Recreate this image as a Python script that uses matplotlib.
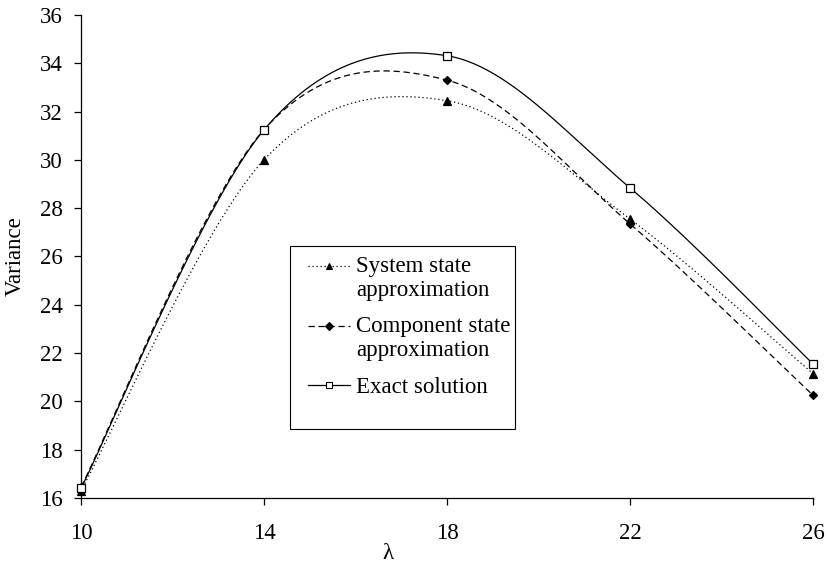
import numpy as np
import matplotlib.pyplot as plt
from matplotlib.lines import Line2D
from matplotlib.patches import Rectangle
from matplotlib.legend_handler import HandlerLine2D

plt.rcParams['font.family'] = ['Liberation Serif', 'DejaVu Serif']

lam = [10, 14, 18, 22, 26]
system_state = [16.3, 30.0, 32.45, 27.55, 21.15]
component_state = [16.45, 31.25, 33.3, 27.35, 20.25]
exact = [16.4, 31.24, 34.31, 28.84, 21.55]

labels = ["System state\napproximation", "Component state\napproximation", "Exact solution"]
x_ticks = [10, 14, 18, 22, 26]
y_ticks = list(range(16, 37, 2))


def smooth(x, y, n=80):
    # excel style smoothed line: cubic bezier with catmull-rom control points
    pts = np.column_stack([x, y]).astype(float)
    P = np.vstack([pts[0], pts, pts[-1]])
    t = np.linspace(0, 1, n)[:, None]
    out = []
    for i in range(len(pts) - 1):
        p0, p1, p2, p3 = P[i], P[i + 1], P[i + 2], P[i + 3]
        c1 = p1 + (p2 - p0) / 6
        c2 = p2 - (p3 - p1) / 6
        b = (1 - t) ** 3 * p1 + 3 * (1 - t) ** 2 * t * c1 + 3 * (1 - t) * t ** 2 * c2 + t ** 3 * p2
        out.append(b if i == 0 else b[1:])
    out = np.vstack(out)
    return out[:, 0], out[:, 1]


class FirstLineHandler(HandlerLine2D):
    """put the legend handle next to the first line of a two-line label"""
    def __init__(self, shift=0.0, **kw):
        super().__init__(**kw)
        self.shift = shift

    def create_artists(self, legend, orig_handle, xdescent, ydescent,
                       width, height, fontsize, trans):
        arts = super().create_artists(legend, orig_handle, xdescent, ydescent,
                                      width, height, fontsize, trans)
        for a in arts:
            a.set_ydata(np.asarray(a.get_ydata(), float) + self.shift)
        return arts


fig = plt.figure(figsize=(8.29, 5.63), dpi=100)
ax = fig.add_axes([0.0977, 0.1155, 0.883, 0.858])

styles = [
    dict(ls=(0, (1, 2.2)), marker='^', ms=6, mfc='black'),
    dict(ls=(0, (5, 3)), marker='D', ms=4.5, mfc='black'),
    dict(ls='-', marker='s', ms=6, mfc='white'),
]
handles = []
for ys, st, lab in zip([system_state, component_state, exact], styles, labels):
    sx, sy = smooth(lam, ys)
    ax.plot(sx, sy, color='black', lw=0.9, linestyle=st['ls'], zorder=2)
    ax.plot(lam, ys, linestyle='none', marker=st['marker'], ms=st['ms'],
            mfc=st['mfc'], mec='black', mew=0.9, zorder=3, clip_on=False)
    handles.append(Line2D([], [], color='black', lw=0.9, linestyle=st['ls'],
                          marker=st['marker'], ms=st['ms'] * 0.8, mfc=st['mfc'],
                          mec='black', mew=0.8))

ax.set_xlim(10, 26)
ax.set_ylim(16, 36)
ax.set_xticks(x_ticks)
ax.set_yticks(y_ticks)
for s in ['top', 'right']:
    ax.spines[s].set_visible(False)
for s in ['left', 'bottom']:
    ax.spines[s].set_linewidth(0.9)
ax.tick_params(direction='out', length=5, width=0.9, labelsize=16.5)
ax.tick_params(axis='y', pad=8)
ax.tick_params(axis='x', pad=13)

ax.set_xlabel('λ', fontsize=16.5)
ax.xaxis.set_label_coords(0.419, -0.115)
ax.xaxis.label.set_va('center')
ax.set_ylabel('Variance', fontsize=16.5)
ax.yaxis.set_label_coords(-0.09, 0.5)
ax.yaxis.label.set_va('center')

hmap = {handles[0]: FirstLineHandler(9.0), handles[1]: FirstLineHandler(9.0),
        handles[2]: FirstLineHandler(0.0)}
leg = ax.legend(handles, labels, loc='upper left', bbox_to_anchor=(0.3101, 0.5017),
                fontsize=16.5, frameon=False, handler_map=hmap,
                handlelength=1.83, handletextpad=0.26, labelspacing=0.67,
                borderpad=0, borderaxespad=0)

# legend box, a bit more room at the bottom as in the original
ax.add_patch(Rectangle((0.2855, 0.1429), 0.3074, 0.3795, transform=ax.transAxes,
                       fill=False, edgecolor='black', lw=0.8, zorder=4))

fig.savefig('out.png', dpi=100)
